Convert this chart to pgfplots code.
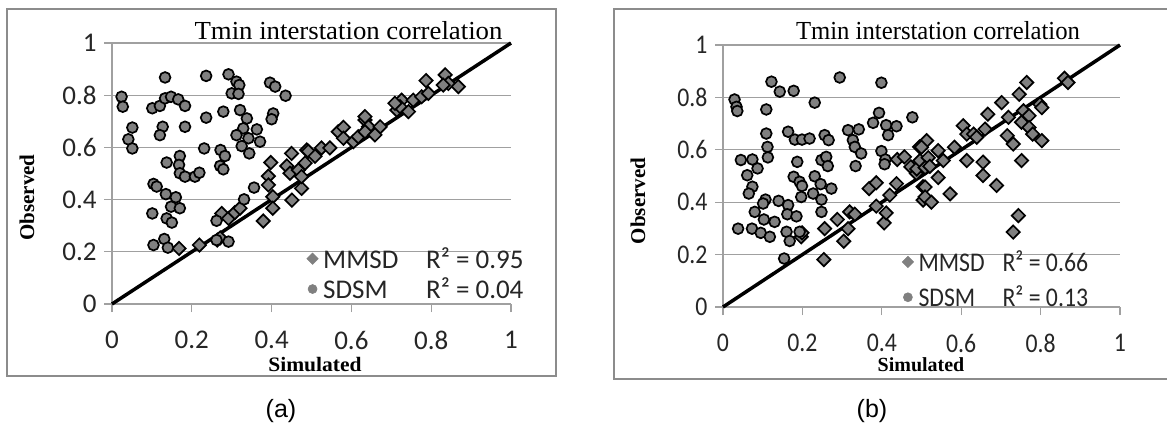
\documentclass[border=0pt]{standalone}
\usepackage{pgfplots}
\pgfplotsset{compat=1.18}
\usepackage{pgfplotstable}
\usepackage{fontspec}
\setmainfont{Liberation Serif}
\newfontfamily\calibA{Carlito}
\newfontfamily\calibB[FakeStretch=0.88]{Carlito}
\newfontfamily\timesA[FakeStretch=1.03]{Liberation Serif}
\newfontfamily\timesB[FakeStretch=0.95]{Liberation Serif}
\newfontfamily\simA[FakeStretch=1.05]{Liberation Serif}
\newfontfamily\arialf{Liberation Sans}
\definecolor{mk}{HTML}{808080}
\definecolor{gridc}{HTML}{A0A0A0}
\definecolor{framec}{HTML}{8C8C8C}

\pgfplotstableread{
x y
0.024 0.794
0.027 0.756
0.051 0.676
0.041 0.631
0.051 0.596
0.133 0.868
0.101 0.750
0.120 0.759
0.133 0.788
0.148 0.794
0.166 0.784
0.183 0.759
0.127 0.679
0.120 0.647
0.183 0.679
0.236 0.874
0.292 0.880
0.312 0.852
0.319 0.839
0.300 0.807
0.317 0.805
0.396 0.848
0.409 0.833
0.435 0.798
0.236 0.714
0.279 0.737
0.321 0.743
0.338 0.711
0.329 0.673
0.363 0.669
0.312 0.647
0.342 0.635
0.371 0.622
0.325 0.605
0.344 0.577
0.404 0.730
0.400 0.708
0.231 0.596
0.272 0.590
0.283 0.567
0.271 0.529
0.279 0.516
0.137 0.542
0.170 0.567
0.168 0.533
0.170 0.501
0.183 0.488
0.208 0.488
0.219 0.503
0.104 0.460
0.112 0.450
0.135 0.421
0.160 0.409
0.148 0.373
0.170 0.367
0.101 0.347
0.137 0.328
0.150 0.312
0.104 0.226
0.131 0.249
0.140 0.216
0.356 0.446
0.331 0.401
0.262 0.319
0.292 0.239
0.262 0.245
}\aSDSM

\pgfplotstableread{
x y
0.168 0.213
0.219 0.226
0.264 0.245
0.271 0.253
0.275 0.347
0.292 0.328
0.308 0.350
0.321 0.367
0.379 0.318
0.398 0.542
0.392 0.490
0.392 0.456
0.403 0.411
0.403 0.367
0.451 0.398
0.450 0.577
0.438 0.529
0.446 0.501
0.467 0.513
0.475 0.443
0.488 0.590
0.475 0.488
0.484 0.540
0.492 0.585
0.509 0.566
0.525 0.598
0.546 0.598
0.567 0.660
0.580 0.677
0.580 0.635
0.605 0.622
0.617 0.641
0.634 0.705
0.643 0.679
0.634 0.660
0.672 0.679
0.659 0.648
0.714 0.743
0.726 0.781
0.722 0.756
0.743 0.737
0.755 0.781
0.776 0.794
0.793 0.807
0.787 0.856
0.835 0.878
0.843 0.845
0.868 0.833
0.830 0.839
0.709 0.769
0.634 0.718
}\aMMSD

\pgfplotstableread{
x y
0.029 0.792
0.034 0.764
0.036 0.748
0.122 0.860
0.143 0.822
0.178 0.825
0.109 0.754
0.231 0.780
0.294 0.876
0.399 0.856
0.393 0.741
0.378 0.703
0.411 0.694
0.437 0.690
0.416 0.656
0.477 0.724
0.109 0.662
0.112 0.611
0.113 0.571
0.164 0.669
0.181 0.639
0.199 0.639
0.218 0.643
0.256 0.656
0.266 0.637
0.315 0.675
0.342 0.678
0.327 0.637
0.332 0.611
0.348 0.586
0.334 0.538
0.399 0.595
0.409 0.563
0.407 0.545
0.045 0.561
0.074 0.563
0.087 0.529
0.061 0.503
0.074 0.459
0.065 0.433
0.187 0.554
0.248 0.561
0.260 0.573
0.264 0.538
0.231 0.499
0.178 0.497
0.193 0.478
0.199 0.462
0.246 0.469
0.273 0.452
0.227 0.433
0.197 0.420
0.248 0.410
0.140 0.405
0.164 0.389
0.162 0.354
0.185 0.346
0.248 0.363
0.107 0.410
0.101 0.395
0.080 0.363
0.103 0.334
0.130 0.325
0.038 0.299
0.073 0.299
0.095 0.283
0.118 0.268
0.160 0.287
0.168 0.252
0.193 0.287
0.154 0.185
}\bSDSM

\pgfplotstableread{
x y
0.197 0.268
0.199 0.283
0.254 0.181
0.256 0.299
0.288 0.334
0.304 0.251
0.315 0.299
0.319 0.363
0.332 0.354
0.368 0.452
0.386 0.474
0.386 0.385
0.406 0.321
0.411 0.359
0.420 0.427
0.437 0.471
0.439 0.563
0.457 0.573
0.473 0.535
0.487 0.510
0.495 0.611
0.504 0.459
0.504 0.408
0.488 0.527
0.496 0.559
0.513 0.635
0.500 0.610
0.517 0.570
0.509 0.532
0.542 0.597
0.521 0.537
0.555 0.559
0.542 0.494
0.509 0.458
0.509 0.420
0.525 0.400
0.572 0.432
0.583 0.610
0.605 0.692
0.614 0.660
0.631 0.660
0.639 0.648
0.660 0.679
0.667 0.736
0.614 0.559
0.655 0.553
0.655 0.502
0.689 0.464
0.702 0.780
0.719 0.724
0.716 0.654
0.731 0.622
0.752 0.559
0.746 0.812
0.765 0.857
0.757 0.749
0.752 0.705
0.771 0.730
0.771 0.685
0.780 0.660
0.803 0.635
0.798 0.774
0.803 0.761
0.744 0.349
0.731 0.286
0.860 0.873
0.869 0.857
}\bMMSD

\pgfplotsset{
  myax/.style={
    scale only axis, anchor=south west,
    xmin=0, xmax=1, ymin=0, ymax=1,
    xtick={0,0.2,0.4,0.6,0.8,1}, ytick={0,0.2,0.4,0.6,0.8,1},
    axis x line*=bottom, axis y line*=left,
    axis line style={gridc, line width=1.3pt},
    ymajorgrids, grid style={gridc, line width=1.3pt},
    tick align=outside, major tick length=8pt,
    tick style={gridc, line width=1.3pt},
    clip=false,
    /pgf/number format/assume math mode=true,
    tick label style={font=#1\fontsize{27}{30}\selectfont, text=black!85, inner sep=1pt},
    yticklabel style={xshift=-6.3pt},
    xticklabel style={yshift=-18pt},
    legend cell align=left,
    legend style={draw=none, fill=none, font=#1\fontsize{27}{30}\selectfont, text=black!85,
      inner sep=0pt, nodes={inner sep=1pt}},
  },
  mmsd/.style={only marks, mark=square*, mark size=4.7pt,
    mark options={rotate=45, fill=mk, draw=black, line width=1.7pt},
    legend image post style={mark size=4pt, mark options={rotate=45, fill=mk, draw=gray, line width=0.6pt}}},
  sdsm/.style={only marks, mark=*, mark size=5.4pt,
    mark options={fill=mk, draw=black, line width=1.7pt},
    legend image post style={mark size=4.5pt, mark options={fill=mk, draw=gray, line width=0.6pt}}},
}

\begin{document}
\begin{tikzpicture}
\useasboundingbox (0pt,0pt) rectangle (1167pt,-434pt);
\fill[white] (0pt,0pt) rectangle (1167pt,-434pt);
\draw[framec, line width=2pt] (7pt,-9pt) rectangle (556pt,-376pt);
\draw[framec, line width=2pt] (614pt,-9pt) rectangle (1180pt,-379pt);

\begin{axis}[myax=\calibA, at={(112pt,-304pt)}, width=399pt, height=261pt,
  legend style={at={(axis cs:0.488,0.01)}, anchor=south west, row sep=6pt}]
\addplot[mmsd] table {\aMMSD};
\addlegendentry{\hspace{4pt}\makebox[103pt][l]{MMSD}R² = 0.95}
\addplot[sdsm] table {\aSDSM};
\addlegendentry{\hspace{4pt}\makebox[103pt][l]{SDSM}R² = 0.04}
\addplot[black, line width=3.5pt, forget plot] coordinates {(0,0) (1,1)};
\end{axis}

\begin{axis}[myax=\calibB, at={(723pt,-307pt)}, width=397pt, height=262pt,
  legend style={at={(axis cs:0.451,-0.01)}, anchor=south west, row sep=11pt}]
\addplot[mmsd] table {\bMMSD};
\addlegendentry{\hspace{4pt}\makebox[84pt][l]{MMSD}R² = 0.66}
\addplot[sdsm] table {\bSDSM};
\addlegendentry{\hspace{4pt}\makebox[84pt][l]{SDSM}R² = 0.13}
\addplot[black, line width=3.5pt, forget plot] coordinates {(0,0) (1,1)};
\end{axis}

\node[anchor=base, font=\timesA\fontsize{26}{30}\selectfont] at (348.5pt,-39pt) {Tmin interstation correlation};
\node[anchor=base, font=\timesB\fontsize{26}{30}\selectfont] at (938pt,-39pt) {Tmin interstation correlation};
\node[rotate=90, inner sep=1pt, font=\bfseries\fontsize{21}{24}\selectfont] at (27pt,-197.5pt) {Observed};
\node[rotate=90, inner sep=1pt, font=\bfseries\fontsize{21}{24}\selectfont] at (638pt,-201pt) {Observed};
\node[inner sep=0.5pt, font=\simA\bfseries\fontsize{20.5}{24}\selectfont] at (315pt,-364.5pt) {Simulated};
\node[inner sep=0.5pt, font=\bfseries\fontsize{20}{24}\selectfont] at (921pt,-365pt) {Simulated};
\node[font=\arialf\fontsize{25}{28}\selectfont] at (281pt,-411pt) {(a)};
\node[font=\arialf\fontsize{25}{28}\selectfont] at (872pt,-411pt) {(b)};
\end{tikzpicture}
\end{document}
